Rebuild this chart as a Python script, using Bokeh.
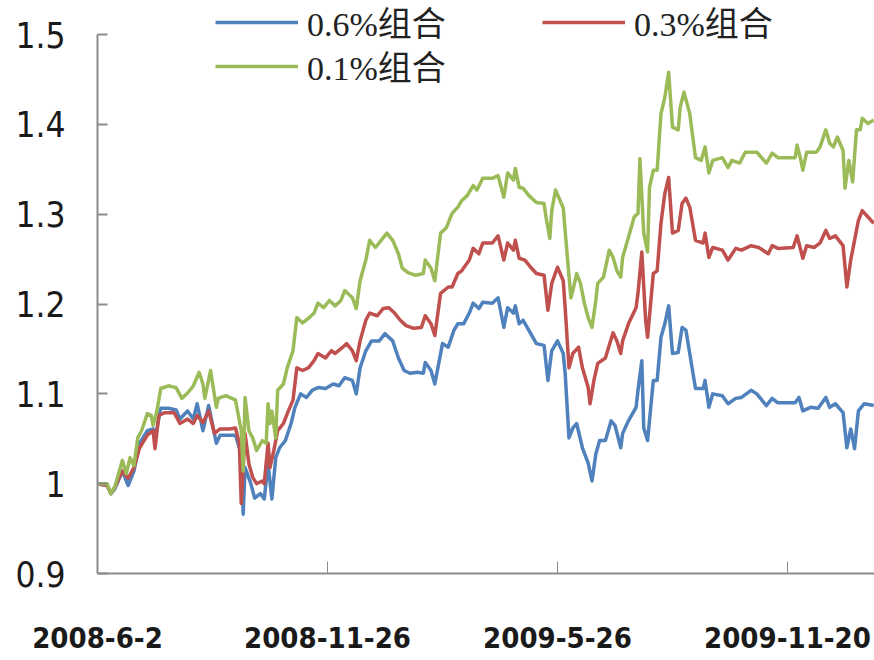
from bokeh.plotting import figure
from bokeh.models import Legend, LegendItem, FixedTicker, Range1d
from bokeh.embed import file_html
from bokeh.resources import INLINE

series_names = ["0.6%组合", "0.3%组合", "0.1%组合"]
series_colors = ["#4F81BD", "#C0504D", "#9BBB59"]

x_tick_days = [0, 120, 240, 360]
x_tick_labels = ["2008-6-2", "2008-11-26", "2009-5-26", "2009-11-20"]
y_ticks = [0.9, 1.0, 1.1, 1.2, 1.3, 1.4, 1.5]
y_tick_labels = ["0.9", "1", "1.1", "1.2", "1.3", "1.4", "1.5"]

days_06 = [0,5,7,9,13,16,19,22,26,29,30,33,37,41,43,47,50,52,55,58,62,64,69,72,75,76,77,80,82,85,
           87,89,91,93,95,98,101,103,106,109,112,115,119,123,126,129,133,135,137,140,143,147,150,154,157,160,163,167,170,171,
           174,176,180,183,186,188,191,194,196,199,201,206,209,212,214,217,218,220,222,225,229,233,235,237,240,243,244,246,248,250,
           253,256,258,260,262,265,268,270,273,274,277,281,282,284,285,287,290,292,294,296,298,300,303,305,307,309,312,316,317,319,
           321,326,329,333,336,341,344,349,352,355,364,366,368,372,376,380,382,385,389,391,393,395,397,400,405]
nav_06 = [1.000,0.998,0.989,0.994,1.014,0.998,1.014,1.045,1.059,1.061,1.050,1.084,1.084,1.082,1.072,1.081,1.072,1.089,1.059,1.087,
          1.045,1.054,1.054,1.054,1.033,0.966,1.018,1.000,0.984,0.989,0.983,1.022,0.983,1.029,1.040,1.048,1.067,1.085,1.100,1.096,
          1.104,1.107,1.106,1.111,1.109,1.118,1.115,1.100,1.129,1.148,1.159,1.159,1.167,1.159,1.140,1.126,1.123,1.124,1.123,1.135,
          1.126,1.111,1.156,1.152,1.171,1.178,1.178,1.190,1.201,1.195,1.202,1.201,1.207,1.174,1.196,1.190,1.198,1.178,1.182,1.171,
          1.156,1.154,1.115,1.148,1.159,1.145,1.123,1.051,1.062,1.067,1.040,1.023,1.003,1.033,1.048,1.048,1.070,1.065,1.040,1.056,
          1.070,1.085,1.104,1.137,1.062,1.048,1.115,1.115,1.163,1.178,1.198,1.145,1.146,1.174,1.171,1.145,1.106,1.106,1.115,1.085,
          1.100,1.098,1.089,1.095,1.096,1.104,1.100,1.087,1.095,1.090,1.090,1.096,1.081,1.085,1.084,1.096,1.085,1.089,1.079,1.040,
          1.061,1.039,1.081,1.089,1.087]

days_03 = [0,5,7,9,13,16,19,22,26,29,30,32,35,40,43,47,50,52,55,58,61,64,69,72,74,75,77,79,81,83,
           86,87,89,90,92,94,97,99,102,104,107,110,113,115,119,122,124,128,130,133,135,137,140,142,146,149,152,155,158,161,
           165,169,171,174,176,179,183,185,188,190,194,196,199,201,206,209,212,214,217,218,220,223,226,229,233,235,237,240,243,244,
           246,248,251,253,256,257,259,261,265,269,271,273,274,277,281,282,284,286,287,290,292,294,296,298,300,303,305,307,309,312,
           316,317,319,321,326,329,333,336,341,345,350,352,355,363,365,368,370,374,377,380,382,385,389,391,393,394,397,399,402,405]
nav_03 = [1.000,0.998,0.989,0.996,1.014,1.006,1.018,1.040,1.054,1.059,1.039,1.076,1.079,1.079,1.067,1.072,1.067,1.076,1.068,1.081,
          1.056,1.061,1.061,1.062,1.045,0.978,1.056,1.022,1.007,1.000,1.003,1.000,1.045,1.018,1.037,1.059,1.067,1.078,1.093,1.129,
          1.126,1.129,1.137,1.145,1.140,1.148,1.145,1.152,1.156,1.148,1.137,1.159,1.182,1.190,1.187,1.195,1.196,1.190,1.182,1.176,
          1.173,1.174,1.187,1.178,1.165,1.212,1.219,1.219,1.234,1.237,1.249,1.262,1.256,1.268,1.268,1.276,1.249,1.268,1.260,1.271,
          1.251,1.249,1.241,1.234,1.232,1.193,1.223,1.241,1.226,1.196,1.129,1.145,1.152,1.129,1.107,1.089,1.115,1.134,1.140,1.168,
          1.159,1.145,1.159,1.178,1.196,1.212,1.258,1.182,1.163,1.234,1.237,1.290,1.323,1.341,1.279,1.282,1.312,1.318,1.308,1.271,
          1.268,1.279,1.252,1.263,1.260,1.249,1.262,1.260,1.265,1.263,1.256,1.265,1.262,1.263,1.276,1.251,1.265,1.263,1.268,1.282,
          1.273,1.276,1.265,1.219,1.249,1.260,1.293,1.304,1.297,1.290]

days_01 = [0,5,7,9,13,15,17,19,21,23,26,28,29,31,33,37,41,44,47,50,53,55,56,59,62,63,67,72,75,76,
           77,79,81,83,86,88,89,90,91,93,94,97,99,102,104,107,110,113,115,118,121,124,127,129,133,135,137,140,142,145,
           148,151,154,157,159,162,166,170,171,174,176,179,182,185,188,190,193,196,198,201,206,209,212,214,217,218,220,222,225,229,
           233,234,236,237,239,242,243,245,247,248,250,252,254,256,258,260,261,264,267,269,271,273,274,277,280,282,283,285,287,288,
           290,292,294,296,298,300,303,304,306,309,312,315,317,319,321,326,329,331,335,338,344,349,352,355,364,365,367,368,370,375,
           377,380,382,384,386,389,390,392,394,396,398,399,402,405]
nav_01 = [1.000,1.000,0.989,0.996,1.026,1.011,1.029,1.020,1.051,1.059,1.078,1.076,1.065,1.081,1.106,1.109,1.107,1.095,1.101,1.109,
          1.124,1.111,1.095,1.126,1.085,1.095,1.098,1.093,1.059,1.014,1.096,1.059,1.051,1.037,1.048,1.045,1.089,1.067,1.081,1.051,
          1.104,1.111,1.129,1.148,1.185,1.179,1.184,1.190,1.201,1.196,1.204,1.198,1.204,1.215,1.207,1.195,1.226,1.249,1.271,1.263,
          1.271,1.279,1.271,1.256,1.240,1.235,1.232,1.234,1.249,1.240,1.226,1.279,1.285,1.301,1.308,1.315,1.321,1.332,1.327,1.340,
          1.340,1.343,1.319,1.346,1.338,1.351,1.330,1.329,1.321,1.313,1.312,1.297,1.273,1.304,1.327,1.312,1.307,1.256,1.207,1.215,
          1.234,1.223,1.201,1.185,1.174,1.204,1.223,1.230,1.260,1.252,1.237,1.230,1.252,1.274,1.297,1.301,1.362,1.279,1.258,1.330,
          1.349,1.349,1.412,1.430,1.458,1.397,1.394,1.419,1.436,1.412,1.363,1.360,1.375,1.346,1.360,1.363,1.352,1.360,1.357,1.369,
          1.369,1.357,1.368,1.363,1.363,1.377,1.360,1.349,1.369,1.369,1.375,1.394,1.379,1.375,1.386,1.371,1.329,1.360,1.336,1.394,
          1.394,1.407,1.401,1.405]

NARROW = "'DejaVu Sans Condensed', sans-serif"
LEGEND_FONT = "'Liberation Serif', 'Noto Sans CJK SC', serif"

p = figure(width=874, height=660, output_backend="svg", toolbar_location=None,
           x_range=Range1d(0, 405.4), y_range=Range1d(0.9, 1.538),
           min_border_left=97, min_border_right=0, min_border_top=0, min_border_bottom=87)
p.outline_line_color = None
p.xgrid.visible = False
p.ygrid.visible = False
p.background_fill_color = "white"
p.border_fill_color = "white"

renderers = []
for days, nav, color in zip([days_06, days_03, days_01], [nav_06, nav_03, nav_01], series_colors):
    r = p.line(days, nav, line_color=color, line_width=3.5, line_join="round")
    renderers.append(r)

# Y axis
ya = p.yaxis[0]
ya.ticker = FixedTicker(ticks=y_ticks)
ya.major_label_overrides = {t: s for t, s in zip(y_ticks, y_tick_labels)}
ya.bounds = (0.9, 1.5)
ya.axis_line_color = "#8c8c8c"
ya.axis_line_width = 2
ya.major_tick_line_color = "#8c8c8c"
ya.major_tick_line_width = 2
ya.major_tick_in = 10
ya.major_tick_out = 0
ya.minor_tick_line_color = None
ya.major_label_standoff = 32
ya.major_label_text_font = NARROW
ya.major_label_text_font_size = "35px"
ya.major_label_text_color = "#1a1a1a"

# X axis
xa = p.xaxis[0]
xa.ticker = FixedTicker(ticks=x_tick_days)
xa.major_label_overrides = {t: s for t, s in zip(x_tick_days, x_tick_labels)}
xa.axis_line_color = "#8c8c8c"
xa.axis_line_width = 2
xa.major_tick_line_color = "#8c8c8c"
xa.major_tick_line_width = 1
xa.major_tick_in = 12
xa.major_tick_out = 0
xa.minor_tick_line_color = None
xa.major_label_standoff = 53
xa.major_label_text_font = NARROW
xa.major_label_text_font_style = "bold"
xa.major_label_text_font_size = "29px"
xa.major_label_text_color = "#1a1a1a"

legend_locs = [(118, 527), (445, 527), (118, 483)]
for r, name, loc in zip(renderers, series_names, legend_locs):
    leg = Legend(items=[LegendItem(label=name, renderers=[r])], location=loc,
                 border_line_color=None, background_fill_alpha=0,
                 padding=0, margin=0, spacing=0,
                 glyph_width=83, glyph_height=20, label_standoff=9,
                 label_text_font=LEGEND_FONT, label_text_font_size="34px",
                 label_text_color="#222222")
    p.add_layout(leg, "center")

open("out.html", "w").write(file_html(p, INLINE))
